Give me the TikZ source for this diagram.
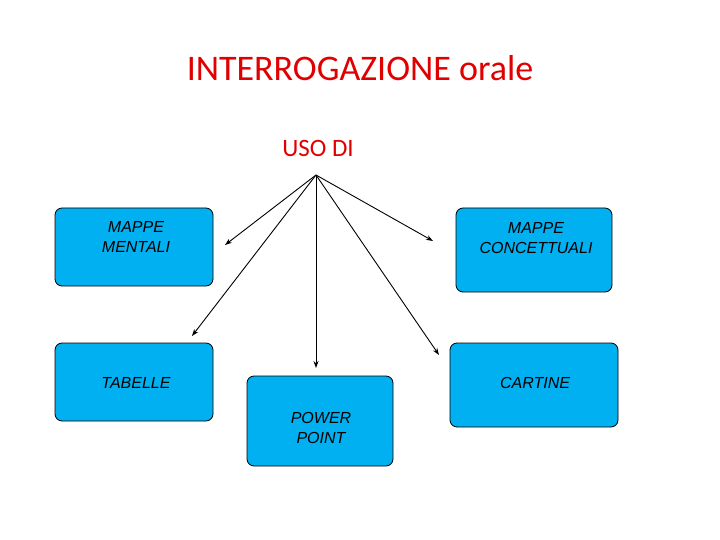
\documentclass[tikz,border=0pt]{standalone}
\usepackage{fontspec}
\setmainfont{Liberation Sans}
\newfontfamily\calib{Carlito}
\usetikzlibrary{arrows.meta}
\definecolor{boxblue}{HTML}{00B0F0}
\definecolor{titlered}{HTML}{E00000}
\begin{document}
\begin{tikzpicture}[x=1pt,y=-1pt,
  box/.style={draw=black,fill=boxblue,rounded corners=7pt,line width=0.8pt},
  lbl/.style={font=\itshape\fontsize{16}{20}\selectfont,align=center,inner sep=0},
  arr/.style={-{Stealth[length=7pt,width=5pt]},line width=0.9pt}]
\useasboundingbox (0,0) rectangle (720,540);
\node[font=\calib\fontsize{36}{40}\selectfont,text=titlered] (title) at (360,68) {INTERROGAZIONE orale};
\node[font=\calib\fontsize{25}{28}\selectfont,text=titlered] (uso) at (318,148) {USO DI};
\coordinate (src) at (316,175);
\draw[box] (55,208) rectangle (213,286);
\node[lbl] (mm) at (136,237) {MAPPE\\MENTALI};
\draw[box] (456,208) rectangle (612,292);
\node[lbl] (mc) at (536,238) {MAPPE\\CONCETTUALI};
\draw[box] (55,343) rectangle (213,421);
\node[lbl] (tab) at (136,383) {TABELLE};
\draw[box] (450,343) rectangle (618,427);
\node[lbl] (car) at (535,383) {CARTINE};
\draw[box] (247,376) rectangle (393,466);
\node[lbl] (pp) at (321,428) {POWER\\POINT};
\coordinate (e1) at (225,245);
\coordinate (e2) at (192,336);
\coordinate (e3) at (316,368);
\coordinate (e4) at (439,355);
\coordinate (e5) at (433,241);
\foreach \e in {e1,e2,e3,e4,e5} \draw[arr] (src) -- (\e);
\end{tikzpicture}
\end{document}
